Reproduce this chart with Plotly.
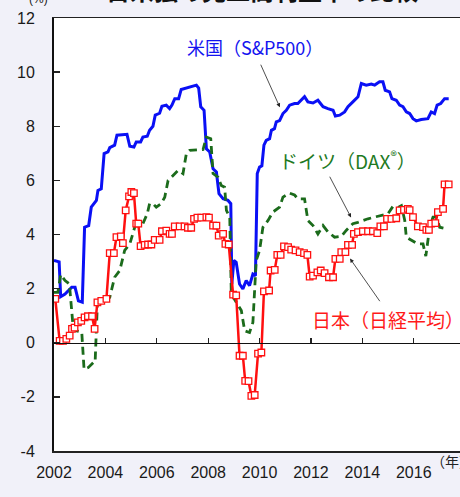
import plotly.graph_objects as go

# ---- data ----
us_x = [2002.0, 2002.2, 2002.26, 2002.43, 2002.69, 2002.82, 2002.95, 2003.1, 2003.19, 2003.35,
        2003.45, 2003.65, 2003.71, 2003.84, 2003.95, 2004.1, 2004.17, 2004.36, 2004.45, 2004.84,
        2004.95, 2005.11, 2005.2, 2005.37, 2005.46, 2005.63, 2005.72, 2005.85, 2005.94, 2006.11,
        2006.2, 2006.37, 2006.5, 2006.59, 2006.7, 2006.85, 2006.95, 2007.15, 2007.32, 2007.54,
        2007.63, 2007.71, 2007.84, 2007.93, 2008.06, 2008.19, 2008.32, 2008.42, 2008.58, 2008.77,
        2008.88, 2008.92, 2009.0, 2009.09, 2009.22, 2009.35, 2009.48, 2009.61, 2009.74, 2009.84,
        2009.91, 2010.0, 2010.09, 2010.17, 2010.26, 2010.39, 2010.46, 2010.58, 2010.65, 2010.78,
        2010.91, 2011.04, 2011.17, 2011.36, 2011.49, 2011.62, 2011.75, 2011.88, 2012.08, 2012.27,
        2012.47, 2012.66, 2012.86, 2012.95, 2013.12, 2013.31, 2013.44, 2013.63, 2013.83, 2013.96,
        2014.15, 2014.35, 2014.48, 2014.67, 2014.8, 2014.89, 2015.06, 2015.15, 2015.32, 2015.45,
        2015.58, 2015.71, 2015.84, 2015.97, 2016.1, 2016.29, 2016.55, 2016.68, 2016.81, 2016.91,
        2017.05, 2017.2, 2017.36]
us_y = [3.04, 2.99, 1.7, 1.8, 2.05, 2.05, 1.55, 1.5, 4.27, 4.33,
        5.01, 5.26, 5.63, 5.69, 6.99, 7.05, 7.21, 7.3, 7.67, 7.70,
        7.26, 7.23, 7.42, 7.42, 7.6, 7.63, 7.85, 8.0, 8.41, 8.48,
        8.74, 8.78, 8.65, 8.78, 9.02, 9.02, 9.36, 9.41, 9.48, 9.52,
        9.41, 8.72, 8.59, 7.17, 7.05, 6.43, 6.31, 5.51, 5.32, 5.26,
        5.14, 2.17, 3.04, 2.97, 2.17, 1.99, 2.30, 2.11, 2.54, 2.48,
        6.25, 6.49, 6.54, 7.3, 7.48, 7.54, 7.85, 7.91, 8.16, 8.21,
        8.47, 8.59, 8.78, 8.84, 8.84, 8.96, 9.09, 8.9, 8.86, 8.96,
        8.72, 8.65, 8.59, 8.38, 8.41, 8.53, 8.72, 8.9, 9.09, 9.58,
        9.52, 9.56, 9.52, 9.64, 9.64, 9.33, 9.27, 9.02, 8.96, 8.78,
        8.72, 8.53, 8.47, 8.28, 8.2, 8.25, 8.28, 8.53, 8.47, 8.78,
        8.84, 9.02, 9.02]

de_x = [2002.0, 2002.15, 2002.26, 2002.43, 2002.6, 2002.69, 2002.75, 2002.88, 2003.08, 2003.17,
        2003.33, 2003.53, 2003.6, 2003.69, 2003.86, 2004.17, 2004.36, 2004.56, 2004.75, 2004.95,
        2005.16, 2005.46, 2005.63, 2005.72, 2005.85, 2005.98, 2006.17, 2006.31, 2006.44, 2006.57,
        2006.83, 2007.02, 2007.15, 2007.28, 2007.8, 2007.93, 2008.1, 2008.19, 2008.38, 2008.51,
        2008.64, 2008.71, 2008.84, 2008.9, 2009.09, 2009.29, 2009.42, 2009.61, 2009.74, 2009.87,
        2010.0, 2010.13, 2010.33, 2010.52, 2010.78, 2010.91, 2011.17, 2011.36, 2011.49, 2011.75,
        2011.88, 2012.08, 2012.27, 2012.47, 2012.66, 2012.92, 2013.18, 2013.37, 2013.63, 2013.83,
        2014.22, 2014.74, 2015.0, 2015.19, 2015.39, 2015.52, 2015.65, 2015.71, 2015.91, 2016.16,
        2016.36, 2016.47, 2016.62, 2016.75, 2016.88, 2017.01, 2017.33]
de_y = [1.86, 1.86, 2.52, 2.3, 2.17, 0.94, 0.51, 0.44, 0.4, -0.98,
        -0.92, -0.73, -0.73, 1.49, 1.6, 1.68, 2.42, 2.67, 3.41, 3.65,
        4.33, 4.4, 4.77, 5.14, 5.14, 5.01, 5.14, 5.38, 6.0, 6.12,
        6.37, 6.25, 6.99, 7.11, 7.14, 7.6, 7.54, 6.25, 6.12, 5.81,
        5.75, 4.89, 4.64, 1.8, 1.49, 1.19, 0.44, 0.38, 0.75, 3.04,
        3.41, 4.27, 4.52, 4.83, 5.01, 5.38, 5.53, 5.46, 5.32, 5.32,
        4.52, 4.33, 4.02, 4.33, 4.1, 3.9, 3.93, 4.15, 4.4, 4.45,
        4.58, 4.7, 4.77, 5.04, 5.0, 5.07, 4.52, 3.9, 3.78, 3.65,
        3.65, 3.2, 4.27, 4.64, 4.64, 4.27, 4.2]

jp_x = [2002.05, 2002.22, 2002.35, 2002.48, 2002.61, 2002.7, 2002.8, 2002.93, 2003.06, 2003.19,
        2003.32, 2003.48, 2003.58, 2003.69, 2003.84, 2004.04, 2004.17, 2004.33, 2004.43, 2004.6,
        2004.68, 2004.79, 2004.92, 2005.01, 2005.11, 2005.2, 2005.28, 2005.37, 2005.53, 2005.66,
        2005.79, 2005.92, 2006.11, 2006.2, 2006.37, 2006.5, 2006.59, 2006.7, 2006.89, 2007.08,
        2007.21, 2007.34, 2007.45, 2007.58, 2007.73, 2007.93, 2008.03, 2008.19, 2008.32, 2008.41,
        2008.58, 2008.67, 2008.8, 2008.97, 2009.09, 2009.22, 2009.35, 2009.44, 2009.57, 2009.68,
        2009.81, 2009.94, 2010.07, 2010.17, 2010.37, 2010.43, 2010.59, 2010.69, 2010.82, 2010.95,
        2011.11, 2011.23, 2011.4, 2011.56, 2011.73, 2011.86, 2011.95, 2012.08, 2012.25, 2012.38,
        2012.53, 2012.7, 2012.86, 2012.95, 2013.12, 2013.18, 2013.34, 2013.44, 2013.6, 2013.67,
        2013.83, 2014.02, 2014.22, 2014.41, 2014.58, 2014.7, 2014.84, 2014.96, 2015.13, 2015.32,
        2015.45, 2015.62, 2015.77, 2015.84, 2015.97, 2016.16, 2016.36, 2016.49, 2016.59, 2016.68,
        2016.84, 2016.94, 2017.14, 2017.2, 2017.36]
jp_y = [1.62, 0.07, 0.07, 0.14, 0.26, 0.51, 0.56, 0.75, 0.81, 0.94,
        0.98, 0.98, 0.51, 1.49, 1.55, 1.62, 3.31, 3.31, 3.9, 3.93,
        3.68, 4.89, 5.41, 5.57, 5.53, 4.4, 4.4, 3.57, 3.62, 3.63,
        3.63, 3.8, 3.8, 4.12, 4.14, 4.02, 4.02, 4.3, 4.3, 4.3,
        4.25, 4.25, 4.58, 4.62, 4.62, 4.64, 4.62, 4.33, 4.33, 3.96,
        4.02, 3.65, 3.63, 1.78, 1.75, -0.48, -0.48, -1.41, -1.42, -1.96,
        -1.93, -0.4, -0.36, 1.9, 1.93, 2.67, 2.69, 3.25, 3.25, 3.56,
        3.53, 3.44, 3.41, 3.35, 3.31, 3.25, 2.44, 2.48, 2.6, 2.67,
        2.57, 2.42, 2.42, 3.1, 3.1, 3.35, 3.35, 3.62, 3.62, 4.02,
        4.09, 4.12, 4.12, 4.12, 4.05, 4.3, 4.3, 4.58, 4.58, 4.6,
        4.89, 4.91, 4.95, 4.9, 4.64, 4.3, 4.27, 4.17, 4.17, 4.4,
        4.42, 4.83, 4.95, 5.85, 5.85]

year_ticks = [2002, 2004, 2006, 2008, 2010, 2012, 2014, 2016]
y_ticks = [-4, -2, 0, 2, 4, 6, 8, 10, 12]
y_tick_text = ["-4", "-2", "0", "2", "4", "6", "8", "10", "12"]

title_text = "日米独の売上高利益率の比較"
label_us = "米国（S&P500）"
label_de = "ドイツ（DAX<sup>®</sup>）"
label_jp = "日本（日経平均）"

# ---- figure ----
X_RANGE = [2002, 2017.8]
Y_RANGE = [-4, 12]
CJK = "Noto Sans CJK JP"
PAGE_BG = "#f1f1f9"

fig = go.Figure()
fig.add_trace(go.Scatter(x=us_x, y=us_y, mode="lines", name="米国",
                         line=dict(color="#0a10f5", width=3)))
fig.add_trace(go.Scatter(x=de_x, y=de_y, mode="lines", name="ドイツ",
                         line=dict(color="#1b6b1b", width=2.8, dash="8px,5px")))
fig.add_trace(go.Scatter(x=jp_x, y=jp_y, mode="lines+markers", name="日本",
                         line=dict(color="#ff1010", width=2.5),
                         marker=dict(symbol="square", size=6.5, color="white",
                                     line=dict(color="#ff1010", width=1.3))))
# helper trace so the zero-line axis is drawn
fig.add_trace(go.Scatter(x=[year_ticks[0]], y=[0], xaxis="x2", mode="lines",
                         hoverinfo="skip", showlegend=False, line=dict(width=0)))

fig.update_layout(
    width=460, height=497,
    margin=dict(l=54, r=0, t=18, b=46, autoexpand=False),
    paper_bgcolor=PAGE_BG,
    plot_bgcolor="white",
    showlegend=False,
    font=dict(family="Liberation Sans", size=16, color="#1a1a1a"),
    xaxis=dict(range=X_RANGE, tickvals=year_ticks, ticks="", showgrid=False,
               zeroline=False, showline=True, linecolor="#222", linewidth=1.5,
               mirror=True, tickfont=dict(size=16), ticklabelstandoff=6,
               automargin=False),
    xaxis2=dict(range=X_RANGE, overlaying="x", anchor="free", position=0.25,
                side="bottom", tickvals=year_ticks, ticks="inside", ticklen=5,
                tickcolor="#222", tickwidth=1.3, showticklabels=False,
                showgrid=False, zeroline=False, showline=True,
                linecolor="#111", linewidth=1.5, automargin=False),
    yaxis=dict(range=Y_RANGE, tickvals=y_ticks, ticktext=y_tick_text,
               ticks="inside", ticklen=6,
               tickcolor="#222", tickwidth=1.3, showgrid=False, zeroline=False,
               showline=True, linecolor="#111", linewidth=2,
               tickfont=dict(size=16), ticklabelstandoff=14, automargin=False),
)

arrow = dict(showarrow=True, arrowhead=2, arrowsize=1, arrowwidth=0.8,
             arrowcolor="#222", xref="x", yref="y", axref="x", ayref="y", text="")
fig.add_annotation(x=2010.79, y=8.70, ax=2010.02, ay=10.33, **arrow)
fig.add_annotation(x=2013.56, y=4.63, ax=2012.70, ay=6.19, **arrow)
fig.add_annotation(x=2013.52, y=3.11, ax=2014.72, ay=1.48, **arrow)

fig.add_annotation(x=2009.83, y=10.93, text=label_us, showarrow=False,
                   font=dict(family=CJK, size=18, color="#1414f0"))
fig.add_annotation(x=2013.42, y=6.74, text=label_de, showarrow=False,
                   font=dict(family=CJK, size=19, color="#1f7a1f"))
fig.add_annotation(x=2015.0, y=0.85, text=label_jp, showarrow=False,
                   font=dict(family=CJK, size=19, color="#ff1a1a"))

# cropped title, unit labels
fig.add_annotation(xref="paper", yref="paper", x=0.512, y=1.021, yanchor="bottom",
                   text="<b>" + title_text + "</b>", showarrow=False,
                   font=dict(family=CJK, size=24, color="#111"))
fig.add_annotation(xref="paper", yref="paper", x=-0.066, y=1.044, yanchor="middle",
                   text="(%)", showarrow=False,
                   font=dict(family="Liberation Sans", size=12, color="#222"))
fig.add_annotation(xref="paper", yref="paper", x=0.924, y=-0.022, xanchor="left",
                   yanchor="middle", text="（年）", showarrow=False,
                   font=dict(family=CJK, size=14, color="#222"))

# remove the default page margin so the figure sits at the window's corner
page_js = ("document.body.style.margin='0';"
           "document.body.style.background='" + PAGE_BG + "';")
fig.write_html("out.html", post_script=page_js,
               config={"displayModeBar": False, "staticPlot": True})
